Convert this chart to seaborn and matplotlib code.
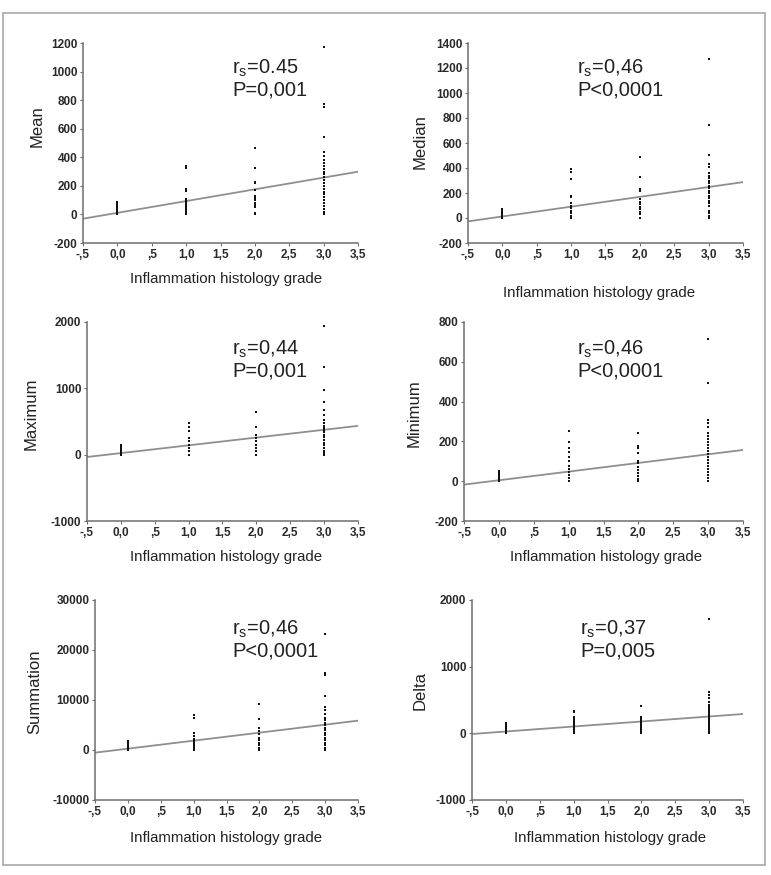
import numpy as np
import pandas as pd
import matplotlib
matplotlib.use("Agg")
import matplotlib.pyplot as plt
import seaborn as sns
from matplotlib.patches import Rectangle

sns.set_theme(style="white")
plt.rcParams['font.family'] = ['Liberation Sans', 'DejaVu Sans']
plt.rcParams['mathtext.fontset'] = 'custom'
plt.rcParams['mathtext.rm'] = 'Liberation Sans'

# values, one list per histology grade (0, 1, 2, 3)
grades = [0, 1, 2, 3]
mean_pts = [
    [5, 15, 25, 35, 45, 55, 65, 75, 85],
    [0, 10, 20, 30, 40, 50, 60, 70, 80, 90, 100, 110, 165, 175, 325, 340],
    [0, 10, 50, 65, 80, 100, 115, 130, 170, 220, 230, 325, 465],
    [0, 20, 40, 60, 80, 100, 120, 140, 160, 180, 200, 220, 240, 260, 280,
     300, 320, 340, 360, 380, 410, 440, 545, 755, 770, 1170],
]
median_pts = [
    [0, 10, 20, 30, 40, 50, 60, 70],
    [0, 20, 40, 60, 80, 90, 100, 120, 165, 180, 310, 370, 390],
    [0, 30, 50, 70, 90, 110, 130, 150, 220, 235, 325, 490],
    [0, 20, 40, 60, 100, 120, 140, 160, 180, 200, 220, 240, 260, 280, 300,
     320, 340, 360, 410, 430, 505, 745, 1270],
]
maximum_pts = [
    [0, 25, 50, 75, 100, 125, 150],
    [0, 50, 100, 150, 200, 250, 350, 420, 480],
    [0, 50, 100, 150, 200, 250, 290, 420, 640],
    [0, 20, 60, 100, 140, 180, 220, 260, 300, 340, 370, 400, 430, 470, 520,
     600, 670, 800, 980, 1320, 1940],
]
minimum_pts = [
    [0, 10, 20, 30, 40, 50],
    [0, 15, 30, 45, 60, 75, 100, 120, 145, 165, 195, 250],
    [0, 10, 25, 40, 55, 70, 90, 100, 140, 165, 175, 240],
    [0, 15, 30, 45, 60, 75, 90, 105, 120, 135, 150, 165, 180, 195, 210,
     225, 240, 270, 290, 310, 495, 715],
]
summation_pts = [
    [0, 300, 600, 900, 1200, 1500, 1800],
    [0, 300, 600, 900, 1200, 1500, 1800, 2200, 2800, 3500, 6500, 7000],
    [0, 500, 1000, 1500, 2000, 2500, 3200, 3800, 4500, 6300, 9300],
    [0, 500, 1000, 1500, 2000, 2500, 3000, 3500, 4000, 4500, 5000, 5500,
     6000, 6500, 7200, 8000, 8600, 10800, 15000, 15500, 23300],
]
delta_pts = [
    [0, 25, 50, 75, 100, 125, 150],
    [0, 20, 40, 60, 80, 100, 120, 140, 160, 180, 200, 220, 250, 320, 340],
    [0, 20, 40, 60, 80, 100, 120, 140, 160, 180, 200, 220, 250, 410],
    [0, 20, 40, 60, 80, 100, 120, 140, 160, 180, 200, 220, 240, 260, 280,
     300, 320, 340, 360, 380, 400, 430, 470, 530, 580, 620, 1710],
]

# fitted line, value at x = -0.5 and x = 3.5
line_x = [-0.5, 3.5]
mean_fit = [-30, 299]
median_fit = [-27, 287]
maximum_fit = [-35, 434]
minimum_fit = [-17, 157]
summation_fit = [-533, 5867]
delta_fit = [-10, 290]

rs_labels = ["0.45", "0,46", "0,44", "0,46", "0,46", "0,37"]
p_labels = ["P=0,001", "P<0,0001", "P=0,001", "P<0,0001", "P<0,0001", "P=0,005"]
y_names = ["Mean", "Median", "Maximum", "Minimum", "Summation", "Delta"]
y_ticks = [
    [-200, 0, 200, 400, 600, 800, 1000, 1200],
    [-200, 0, 200, 400, 600, 800, 1000, 1200, 1400],
    [-1000, 0, 1000, 2000],
    [-200, 0, 200, 400, 600, 800],
    [-10000, 0, 10000, 20000, 30000],
    [-1000, 0, 1000, 2000],
]
x_ticks = [-0.5, 0, 0.5, 1, 1.5, 2, 2.5, 3, 3.5]
x_ticklabels = ["-,5", "0,0", ",5", "1,0", "1,5", "2,0", "2,5", "3,0", "3,5"]

all_pts = [mean_pts, median_pts, maximum_pts, minimum_pts, summation_pts, delta_pts]
all_fit = [mean_fit, median_fit, maximum_fit, minimum_fit, summation_fit, delta_fit]

W, H = 771, 875
fig = plt.figure(figsize=(W / 100, H / 100), dpi=100)
fig.patch.set_facecolor("white")

# pixel layout: (left, right, top, bottom) of each axes
boxes = [(83, 358, 43, 243), (468, 743, 43, 243),
         (87, 358, 322, 521), (464, 743, 322, 521),
         (95, 358, 600, 800), (472, 743, 600, 800)]
ylab_pos = [(37, 126), (420, 142), (31, 414), (414, 413), (35, 692), (420, 690)]
xlab_pos = [(226, 279), (599, 293), (226, 557), (606, 557), (226, 838), (610, 838)]
txt_pos = [(232, 68), (577, 68), (232, 349), (577, 349), (232, 629), (580, 629)]

spine_grey = "#6e6e6e"
for i in range(6):
    l, r, t, b = boxes[i]
    ax = fig.add_axes([l / W, 1 - b / H, (r - l) / W, (b - t) / H])
    pts = all_pts[i]
    df = pd.DataFrame({
        "grade": [g for g, vals in zip(grades, pts) for _ in vals],
        "value": [v for vals in pts for v in vals],
    })
    sns.lineplot(x=line_x, y=all_fit[i], ax=ax, color="#8f8f8f", linewidth=1.3)
    sns.scatterplot(data=df, x="grade", y="value", ax=ax, marker="s", s=2.6,
                    color="#111111", linewidth=0, zorder=3)
    ax.set_xlim(-0.5, 3.5)
    ax.set_ylim(y_ticks[i][0], y_ticks[i][-1])
    ax.set_xticks(x_ticks)
    ax.set_xticklabels(x_ticklabels)
    ax.set_yticks(y_ticks[i])
    ax.set_yticklabels([str(v) for v in y_ticks[i]])
    ax.set_xlabel("")
    ax.set_ylabel("")
    ax.tick_params(axis="both", labelsize=8.5, colors=spine_grey, labelcolor="#2a2a2a",
                   length=2, width=0.8, pad=2, bottom=True, left=True)
    for lab in ax.get_xticklabels() + ax.get_yticklabels():
        lab.set_fontweight("bold")
    sns.despine(ax=ax)
    for s in ["left", "bottom"]:
        ax.spines[s].set_color(spine_grey)
        ax.spines[s].set_linewidth(1.1)
    ax.set_facecolor("none")

    fig.text(ylab_pos[i][0] / W, 1 - ylab_pos[i][1] / H, y_names[i],
             rotation=90, ha="center", va="center", fontsize=12, color="#222222")
    fig.text(xlab_pos[i][0] / W, 1 - xlab_pos[i][1] / H,
             "Inflammation histology grade", ha="center", va="center",
             fontsize=10.8, color="#222222")
    tx, ty = txt_pos[i]
    fig.text(tx / W, 1 - ty / H, r"r$_\mathregular{s}$=" + rs_labels[i],
             ha="left", va="center", fontsize=14.5, color="#222222")
    fig.text(tx / W, 1 - (ty + 22) / H, p_labels[i],
             ha="left", va="center", fontsize=14.5, color="#222222")

fig.patches.append(Rectangle((3 / W, 1 - 865 / H), 762 / W, 852 / H,
                             transform=fig.transFigure, fill=False,
                             edgecolor="#a8a8a8", linewidth=1.2))

fig.savefig("out.png", dpi=100)
